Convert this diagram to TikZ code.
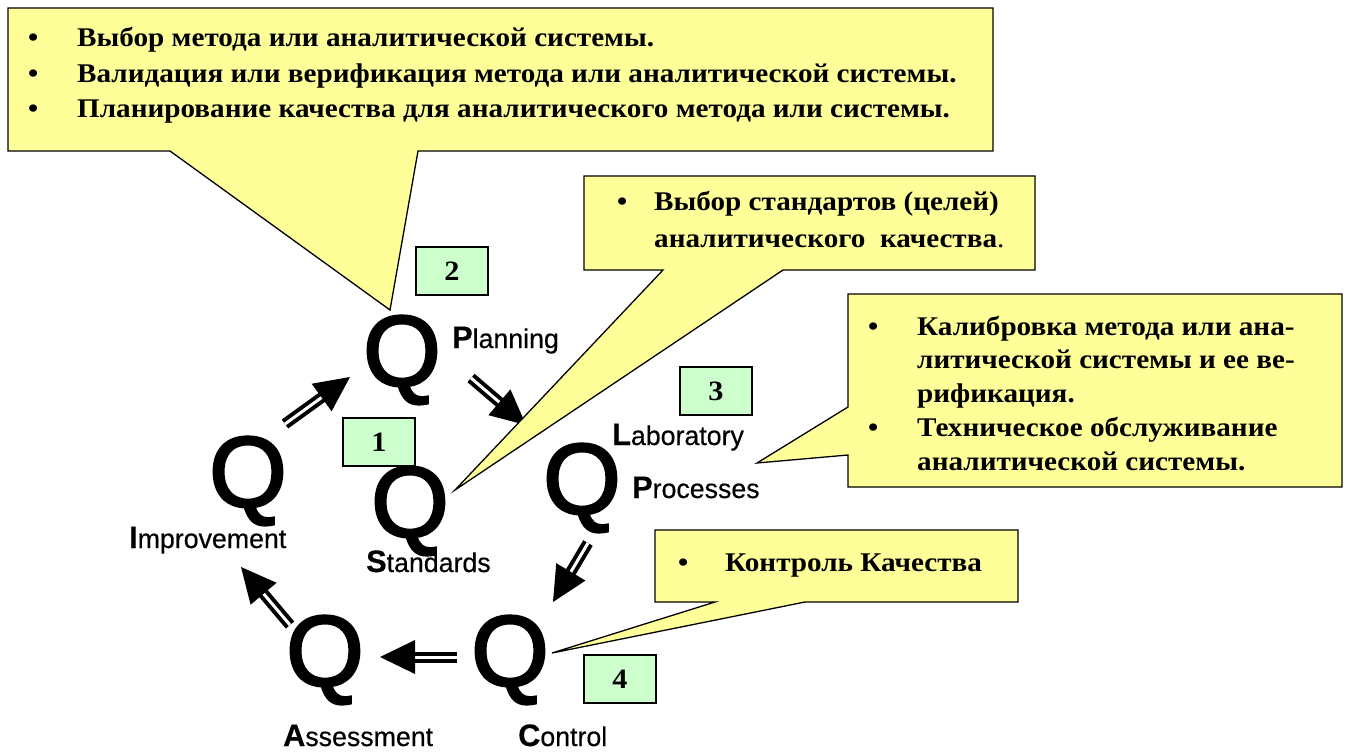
\documentclass[tikz,border=0pt]{standalone}
\usepackage{fontspec}
\setmainfont{Liberation Serif}
\setsansfont{Liberation Sans}
\newfontfamily\notefont[FakeStretch=1.08]{Liberation Serif}
\newfontfamily\qfont[FakeBold=2.5]{Liberation Sans}
\newfontfamily\lblfont[FakeStretch=0.99,FakeBold=0.4]{Liberation Sans}
\usetikzlibrary{calc}
\definecolor{notefill}{HTML}{FFFF99}
\definecolor{numfill}{HTML}{CCFFCC}
\newcommand{\bigini}[1]{{\fontsize{31}{31}\selectfont\bfseries #1}}
\newcommand{\qarrow}[2]{%
  \draw[qshaft] (#1) -- (#2);
  \path ($(#2)!35pt!(#1)$) coordinate (qa-base);
  \fill ($(qa-base)!17pt!90:(#2)$) -- (#2) -- ($(qa-base)!17pt!-90:(#2)$) -- cycle;
}

\begin{document}
\begin{tikzpicture}[x=1pt,y=-1pt,
    note/.style={fill=notefill,draw=black,line width=1.3pt,line join=miter},
    notetext/.style={anchor=base west,inner sep=0pt,font=\notefont\bfseries},
    numbox/.style={draw=black,fill=numfill,line width=1.3pt,inner sep=0pt,
      minimum width=72pt,minimum height=48pt,font=\notefont\fontsize{28}{30}\selectfont\bfseries},
    bigq/.style={inner sep=0pt,font=\qfont\fontsize{100}{100}\selectfont},
    qlabel/.style={anchor=base west,inner sep=0pt,font=\lblfont\fontsize{27}{30}\selectfont},
    qshaft/.style={line width=4pt,double=white,double distance=3pt,shorten >=30pt}]
  \useasboundingbox (0,0) rectangle (1346,754);

  % the six Q's of the cycle
  \node[bigq] (qplan) at (402,360) {Q};
  \node[bigq] (qimpr) at (248,481) {Q};
  \node[bigq] (qstd) at (410,511) {Q};
  \node[bigq] (qlab) at (582,488) {Q};
  \node[bigq] (qctrl) at (510,660) {Q};
  \node[bigq] (qass) at (325,660) {Q};

  \node[qlabel] (lplan) at (452,348) {\bigini{P}lanning};
  \node[qlabel] (limpr) at (129,548) {\bigini{I}mprovement};
  \node[qlabel] (lstd) at (366,572) {\bigini{S}tandards};
  \node[qlabel] (llab) at (612,445) {\bigini{L}aboratory};
  \node[qlabel] (lproc) at (632,498) {\bigini{P}rocesses};
  \node[qlabel] (lctrl) at (518,746) {\bigini{C}ontrol};
  \node[qlabel] (lass) at (283,746) {\bigini{A}ssessment};

  % arrows between the Q's
  \coordinate (a1s) at (285,424); \coordinate (a1e) at (350,377);
  \coordinate (a2s) at (471,378); \coordinate (a2e) at (526,425);
  \coordinate (a3s) at (588,543); \coordinate (a3e) at (553,602);
  \coordinate (a4s) at (457,657); \coordinate (a4e) at (380,657);
  \coordinate (a5s) at (290,625); \coordinate (a5e) at (241,567);
  \qarrow{a1s}{a1e}
  \qarrow{a2s}{a2e}
  \qarrow{a3s}{a3e}
  \qarrow{a4s}{a4e}
  \qarrow{a5s}{a5e}

  % numbers
  \node[numbox] (n1) at (379,442) {1};
  \node[numbox] (n2) at (452,271) {2};
  \node[numbox] (n3) at (716,391) {3};
  \node[numbox] (n4) at (620,679) {4};

  % callouts
  \draw[note] (8,8) -- (993,8) -- (993,151) -- (418,151) -- (390,310)
    -- (170,151) -- (8,151) -- cycle;
  \node[notetext] (t1) at (28,47) {\fontsize{27}{35.5}\selectfont
    \begin{tabular}[t]{@{}p{49pt}@{}l@{}}
    •&Выбор метода или аналитической системы.\\
    •&Валидация или верификация метода или аналитической системы.\\
    •&Планирование качества для аналитического метода или системы.
    \end{tabular}};

  \draw[note] (584,176) -- (1035,176) -- (1035,270) -- (783,270) -- (455,490)
    -- (663,270) -- (584,270) -- cycle;
  \node[notetext] (t2) at (617,211) {\fontsize{27}{37}\selectfont
    \begin{tabular}[t]{@{}p{37pt}@{}l@{}}
    •&Выбор стандартов (целей)\\
    &аналитического\ \ качества\textmd{.}
    \end{tabular}};

  \draw[note] (848,294) -- (1342,294) -- (1342,487) -- (848,487) -- (848,455)
    -- (757,463) -- (848,407) -- cycle;
  \node[notetext] (t3) at (868,335) {\fontsize{27}{33.8}\selectfont
    \begin{tabular}[t]{@{}p{49pt}@{}l@{}}
    •&Калибровка метода или ана-\\
    &литической системы и ее ве-\\
    &рификация.\\
    •&Техническое обслуживание\\
    &аналитической системы.
    \end{tabular}};

  \draw[note] (655,530) -- (1018,530) -- (1018,602) -- (805,602) -- (552,653)
    -- (715,602) -- (655,602) -- cycle;
  \node[notetext] (t4) at (678,571) {\fontsize{27}{35}\selectfont
    \begin{tabular}[t]{@{}p{47pt}@{}l@{}}
    •&Контроль Качества
    \end{tabular}};
\end{tikzpicture}
\end{document}
